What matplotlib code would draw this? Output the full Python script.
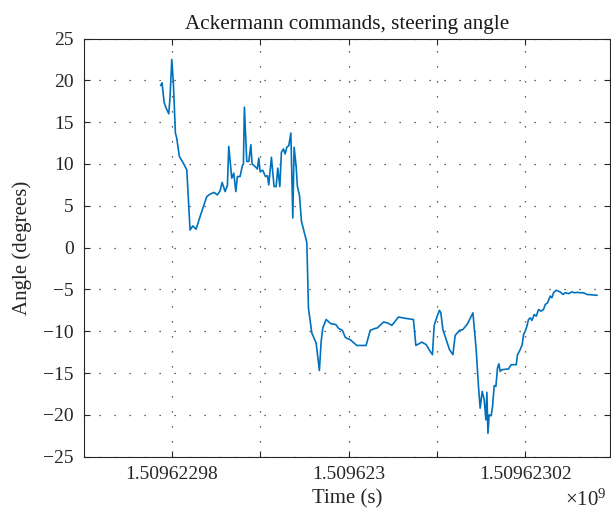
import numpy as np
import matplotlib.pyplot as plt
from matplotlib.ticker import FixedLocator, FixedFormatter

# tempo (s), offset rispetto a t0
t0 = 1509622970
t_off = [8.74, 8.89, 9.12, 9.34, 9.65, 9.80, 9.99, 10.17, 10.28, 10.40, 10.55,
         10.85, 11.30, 11.69, 12.06, 12.37, 12.74, 13.19, 13.95, 14.33, 14.78,
         15.15, 15.46, 15.69, 16.03, 16.29, 16.44, 16.78, 17.01, 17.24, 17.42,
         17.72, 17.98, 18.10, 18.21, 18.48, 18.71, 18.94, 19.08, 19.42, 19.68,
         19.84, 19.99, 20.29, 20.59, 20.82, 20.97, 21.27, 21.57, 21.80, 21.99,
         22.22, 22.40, 22.63, 22.82, 23.01, 23.24, 23.47, 23.69, 23.84, 24.07,
         24.21, 24.44, 24.67, 25.28, 25.46, 25.84, 26.33, 26.70, 26.90, 27.09,
         27.46, 28.00, 28.56, 28.86, 29.31, 29.62, 29.81, 30.18, 30.94, 31.99,
         32.45, 32.90, 33.27, 33.95, 34.41, 34.90, 35.65, 36.41, 37.35, 37.62,
         38.30, 38.79, 39.24, 39.50, 39.69, 40.00, 40.29, 40.45, 40.68, 41.05,
         41.43, 41.81, 42.07, 42.56, 42.94, 43.47, 44.08, 44.45, 44.71, 44.90,
         45.13, 45.36, 45.55, 45.66, 45.78, 45.92, 46.15, 46.30, 46.49, 46.68,
         46.86, 47.02, 47.17, 47.36, 48.11, 48.41, 48.98, 49.13, 49.43, 49.66,
         49.81, 50.00, 50.19, 50.37, 50.57, 50.76, 51.02, 51.25, 51.51, 51.78,
         52.07, 52.27, 52.53, 52.83, 53.02, 53.20, 53.51, 53.96, 54.27, 54.53,
         54.90, 55.29, 55.58, 55.92, 56.23, 56.60, 56.99, 58.12]

# angolo di sterzo (gradi)
angle = [19.4, 19.7, 17.4, 16.7, 16.0, 18.1, 22.5, 19.7, 16.9, 13.7, 13.1,
         10.9, 10.1, 9.3, 2.1, 2.6, 2.2, 3.7, 6.1, 6.4, 6.6,
         6.3, 6.8, 7.8, 6.7, 7.45, 12.1, 8.3, 8.9, 6.7, 8.5,
         8.5, 9.8, 10.0, 16.8, 10.3, 10.3, 12.3, 10.0, 9.7, 9.4,
         10.7, 9.1, 9.25, 8.5, 8.6, 7.5, 10.8, 7.3, 7.3, 9.5,
         7.3, 11.4, 11.8, 11.2, 12.0, 12.2, 13.7, 3.55, 12.0, 9.7,
         7.3, 6.3, 3.15, 0.6, -7.2, -10.2, -11.4, -14.7, -11.2, -9.6,
         -8.6, -9.1, -9.2, -9.65, -9.9, -10.7, -10.85, -11.0, -11.7, -11.7,
         -9.9, -9.7, -9.6, -8.9, -9.0, -9.3, -8.3, -8.45, -8.6, -11.7,
         -11.3, -11.6, -12.4, -12.8, -9.3, -8.3, -7.5, -7.8, -9.8, -11.0,
         -12.2, -12.8, -10.5, -9.9, -9.8, -9.1, -7.8, -12.2, -16.6, -19.2,
         -17.2, -18.2, -20.6, -17.3, -22.2, -20.0, -20.1, -19.0, -16.5, -16.6,
         -14.4, -13.9, -14.8, -14.6, -14.5, -14.0, -14.0, -12.8, -12.2, -11.6,
         -10.4, -10.0, -9.4, -8.6, -8.4, -8.7, -8.0, -8.2, -7.4, -7.6,
         -7.4, -6.8, -6.6, -5.8, -6.0, -5.4, -5.1, -5.3, -5.6, -5.4,
         -5.5, -5.3, -5.4, -5.35, -5.4, -5.4, -5.6, -5.7]

xticks = [1509622980, 1509622990, 1509623000, 1509623010, 1509623020]
xticklabels = ["1.50962298", "", "1.509623", "", "1.50962302"]
yticks = [-25, -20, -15, -10, -5, 0, 5, 10, 15, 20, 25]


def main():
    plt.rcParams['font.family'] = ['Liberation Serif', 'DejaVu Serif']
    plt.rcParams['font.size'] = 14
    plt.rcParams['mathtext.fontset'] = 'custom'
    plt.rcParams['mathtext.rm'] = 'Liberation Serif'
    plt.rcParams['mathtext.default'] = 'regular'

    fig = plt.figure(figsize=(6.11, 5.15), dpi=100)
    ax = fig.add_axes([0.1367, 0.1132, 0.8617, 0.812])

    t = t0 + np.array(t_off)
    ax.plot(t, angle, color='#0072BD', lw=1.2)

    ax.set_xlim(t0, t0 + 59.6)
    ax.set_ylim(-25, 25)
    ax.xaxis.set_major_locator(FixedLocator(xticks))
    ax.xaxis.set_major_formatter(FixedFormatter(xticklabels))
    ax.set_yticks(yticks)

    ax.grid(True, linestyle=(0, (1, 11)), color='0.2', lw=0.9)
    ax.tick_params(direction='in', top=True, right=True, length=4, width=0.8,
                   color='0.15', labelcolor='0.15')
    ax.tick_params(axis='y', pad=7)
    ax.tick_params(axis='x', pad=7)
    for s in ax.spines.values():
        s.set_linewidth(0.8)
        s.set_color('0.15')

    ax.set_title('Ackermann commands, steering angle', fontsize=15.2,
                 color='0.1', pad=7)
    ax.set_xlabel('Time (s)', color='0.15', fontsize=15, labelpad=4)
    ax.set_ylabel('Angle (degrees)', color='0.15', fontsize=15, labelpad=8)
    ax.text(0.994, -0.104, '×10$^{9}$', transform=ax.transAxes,
            ha='right', va='center', color='0.15', fontsize=15)

    plt.savefig("out.png", dpi=100)


if __name__ == "__main__":
    main()
